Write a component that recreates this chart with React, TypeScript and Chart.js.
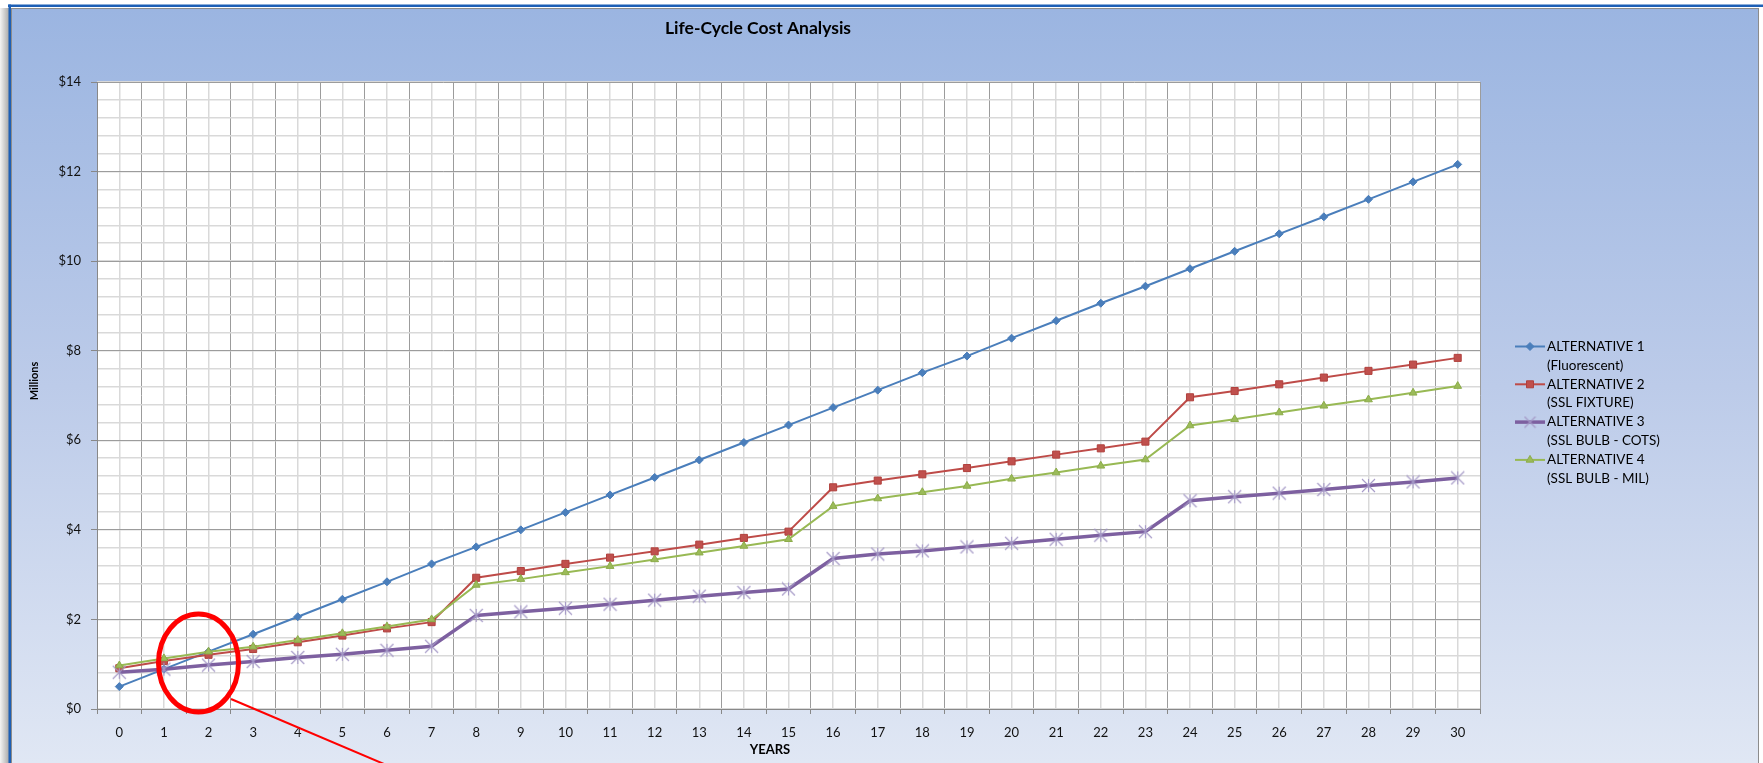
import React, { useEffect, useRef } from "react";
import { Chart, registerables } from "chart.js";
Chart.register(...registerables);

const years = ["0","1","2","3","4","5","6","7","8","9","10","11","12","13","14","15","16","17","18","19","20","21","22","23","24","25","26","27","28","29","30"];

const alt1 = [0.50, 0.89, 1.28, 1.67, 2.06, 2.45, 2.84, 3.24, 3.62, 4.00, 4.39, 4.78, 5.17, 5.56, 5.95, 6.34, 6.73, 7.12, 7.51, 7.88, 8.28, 8.67, 9.06, 9.44, 9.83, 10.22, 10.61, 10.99, 11.38, 11.77, 12.16];
const alt2 = [0.91, 1.07, 1.21, 1.34, 1.49, 1.64, 1.80, 1.94, 2.93, 3.08, 3.24, 3.38, 3.52, 3.67, 3.82, 3.96, 4.95, 5.10, 5.24, 5.38, 5.53, 5.68, 5.82, 5.97, 6.96, 7.10, 7.25, 7.40, 7.55, 7.69, 7.84];
const alt3 = [0.82, 0.89, 0.98, 1.06, 1.15, 1.22, 1.31, 1.40, 2.09, 2.17, 2.25, 2.34, 2.43, 2.52, 2.60, 2.68, 3.36, 3.46, 3.53, 3.62, 3.70, 3.79, 3.88, 3.96, 4.65, 4.74, 4.82, 4.90, 4.99, 5.07, 5.16];
const alt4 = [0.97, 1.13, 1.28, 1.39, 1.54, 1.69, 1.84, 2.00, 2.77, 2.90, 3.05, 3.19, 3.34, 3.49, 3.64, 3.79, 4.53, 4.70, 4.84, 4.98, 5.14, 5.28, 5.43, 5.57, 6.33, 6.47, 6.62, 6.77, 6.91, 7.06, 7.21];

const legendLine1 = ["ALTERNATIVE 1", "ALTERNATIVE 2", "ALTERNATIVE 3", "ALTERNATIVE 4"];
const legendLine2 = ["(Fluorescent)", "(SSL FIXTURE)", "(SSL BULB - COTS)", "(SSL BULB - MIL)"];

const chartTitle = "Life-Cycle Cost Analysis";
const xTitle = "YEARS";
const yTitle = "Millions";

const FONT = "Lato, 'Open Sans', sans-serif";

function makeStar(color: string, size: number, vertical: boolean) {
  const c = document.createElement("canvas");
  c.width = size;
  c.height = size;
  const g = c.getContext("2d")!;
  g.strokeStyle = color;
  g.lineWidth = 1.1;
  const m = size / 2;
  const r = size / 2 - 1;
  g.beginPath();
  g.moveTo(m - r, m - r);
  g.lineTo(m + r, m + r);
  g.moveTo(m + r, m - r);
  g.lineTo(m - r, m + r);
  if (vertical) {
    g.moveTo(m, m - r);
    g.lineTo(m, m + r);
  }
  g.stroke();
  return c;
}

function drawMarker(ctx: CanvasRenderingContext2D, style: any, x: number, y: number, fill: string, stroke: string) {
  ctx.fillStyle = fill;
  ctx.strokeStyle = stroke;
  ctx.lineWidth = 1;
  ctx.beginPath();
  if (style === "rectRot") {
    const r = 4;
    ctx.moveTo(x, y - r);
    ctx.lineTo(x + r, y);
    ctx.lineTo(x, y + r);
    ctx.lineTo(x - r, y);
    ctx.closePath();
  } else if (style === "rect") {
    ctx.rect(x - 3.5, y - 3.5, 7, 7);
  } else if (style === "triangle") {
    const r = 4.5;
    ctx.moveTo(x, y - r);
    ctx.lineTo(x + r * 0.866, y + r * 0.5);
    ctx.lineTo(x - r * 0.866, y + r * 0.5);
    ctx.closePath();
  }
  ctx.fill();
  ctx.stroke();
}

export default function App() {
  const ref = useRef<HTMLCanvasElement | null>(null);

  useEffect(() => {
    const canvas = ref.current!;
    const star = makeStar("#a498c6", 15, true);
    const legendStar = makeStar("#a498c6", 13, false);

    const framePlugin = {
      id: "frame",
      beforeDraw(chart: any) {
        const ctx = chart.ctx as CanvasRenderingContext2D;
        const W = chart.width, H = chart.height;
        ctx.save();
        ctx.fillStyle = "#ffffff";
        ctx.fillRect(0, 0, W, H);
        const sh = ctx.createLinearGradient(0, 0, 9, 0);
        sh.addColorStop(0, "#f4f4f4");
        sh.addColorStop(1, "#a9a9a9");
        ctx.fillStyle = sh;
        ctx.fillRect(0, 8, 9, H - 8);
        const g = ctx.createLinearGradient(0, 9, 0, H);
        g.addColorStop(0, "#9bb5e1");
        g.addColorStop(0.5, "#bccbe9");
        g.addColorStop(1, "#e0e7f4");
        ctx.fillStyle = g;
        ctx.fillRect(12, 9, 1746, H - 9);
        ctx.strokeStyle = "#8c8c8c";
        ctx.lineWidth = 1;
        ctx.strokeRect(11.5, 8.5, 1747, H);
        ctx.fillStyle = "#1d5fb5";
        ctx.fillRect(8, 4.5, W - 8, 2.5);
        ctx.fillRect(8.5, 4.5, 2.5, H);
        const ca = chart.chartArea;
        ctx.fillStyle = "#ffffff";
        ctx.fillRect(ca.left, ca.top, ca.right - ca.left, ca.bottom - ca.top);
        ctx.restore();
      },
      afterDraw(chart: any) {
        const ctx = chart.ctx as CanvasRenderingContext2D;
        ctx.save();
        ctx.fillStyle = "#000";
        ctx.textAlign = "center";
        ctx.textBaseline = "middle";
        ctx.font = `bold 17.5px ${FONT}`;
        ctx.fillText(chartTitle, 758, 28);
        ctx.font = `bold 13px ${FONT}`;
        ctx.fillText(xTitle, 770, 750);
        ctx.save();
        ctx.translate(34, 381);
        ctx.rotate(-Math.PI / 2);
        ctx.font = `bold 11px ${FONT}`;
        ctx.fillText(yTitle, 0, 0);
        ctx.restore();

        // legend
        const ds = chart.data.datasets;
        for (let i = 0; i < ds.length; i++) {
          const d = ds[i];
          const y0 = 346.5 + i * 37.8;
          ctx.strokeStyle = d.borderColor;
          ctx.lineWidth = d.borderWidth;
          ctx.beginPath();
          ctx.moveTo(1515, y0);
          ctx.lineTo(1545, y0);
          ctx.stroke();
          if (d.pointStyle instanceof HTMLCanvasElement) {
            ctx.drawImage(legendStar, 1530 - 6.5, y0 - 6.5);
          } else {
            drawMarker(ctx, d.pointStyle, 1530, y0, d.pointBackgroundColor, d.pointBorderColor);
          }
          ctx.fillStyle = "#000";
          ctx.textAlign = "left";
          ctx.textBaseline = "middle";
          ctx.font = `13.5px ${FONT}`;
          ctx.fillText(legendLine1[i], 1547, y0);
          ctx.fillText(legendLine2[i], 1547, y0 + 18.8);
        }

        // red annotation
        ctx.strokeStyle = "#ff0000";
        ctx.lineWidth = 5;
        ctx.beginPath();
        ctx.ellipse(198.5, 663, 40, 49, 0, 0, Math.PI * 2);
        ctx.stroke();
        ctx.lineWidth = 2;
        ctx.beginPath();
        ctx.moveTo(231, 699);
        ctx.lineTo(384, 764);
        ctx.stroke();
        ctx.restore();
      },
    };

    const darkGrid = "#9c9c9c";
    const lightGrid = "#d9d9d9";

    const chart = new Chart(canvas, {
      type: "line",
      data: {
        labels: years,
        datasets: [
          {
            label: legendLine1[0] + " " + legendLine2[0],
            data: alt1,
            borderColor: "#4a7ebb",
            backgroundColor: "#4a7ebb",
            pointBackgroundColor: "#4a7ebb",
            pointBorderColor: "#4a7ebb",
            borderWidth: 2,
            pointStyle: "rectRot",
            pointRadius: 4,
            pointBorderWidth: 1,
            order: 4,
          },
          {
            label: legendLine1[1] + " " + legendLine2[1],
            data: alt2,
            borderColor: "#be4b48",
            backgroundColor: "#be4b48",
            pointBackgroundColor: "#c0504d",
            pointBorderColor: "#b0403d",
            borderWidth: 2,
            pointStyle: "rect",
            pointRadius: 5,
            pointBorderWidth: 1,
            order: 3,
          },
          {
            label: legendLine1[2] + " " + legendLine2[2],
            data: alt3,
            borderColor: "#7d60a0",
            backgroundColor: "#7d60a0",
            pointBackgroundColor: "#7d60a0",
            pointBorderColor: "#7d60a0",
            borderWidth: 3.5,
            pointStyle: star as any,
            pointRadius: 7,
            order: 2,
          },
          {
            label: legendLine1[3] + " " + legendLine2[3],
            data: alt4,
            borderColor: "#98b954",
            backgroundColor: "#98b954",
            pointBackgroundColor: "#9bbb59",
            pointBorderColor: "#8cac4a",
            borderWidth: 2,
            pointStyle: "triangle",
            pointRadius: 4.5,
            pointBorderWidth: 1,
            order: 1,
          },
        ],
      },
      options: {
        responsive: false,
        maintainAspectRatio: false,
        animation: false,
        events: [],
        layout: { padding: { top: 82, right: 283, bottom: 0, left: 0 } },
        plugins: {
          legend: { display: false },
          title: { display: false },
          tooltip: { enabled: false },
        },
        elements: { line: { tension: 0 } },
        scales: {
          x2: {
            type: "category",
            position: "bottom",
            offset: true,
            z: -1,
            grid: { offset: false, color: lightGrid, lineWidth: 1.5, drawTicks: false },
            border: { display: false },
            ticks: { display: false },
            afterFit: (s: any) => { s.height = 0; },
          },
          x: {
            type: "category",
            position: "bottom",
            offset: true,
            grid: { offset: true, color: darkGrid, lineWidth: 1, drawTicks: true, tickLength: 5, tickColor: "#888" },
            border: { display: true, color: "#888", width: 1 },
            ticks: {
              color: "#111",
              font: { family: FONT, size: 13 },
              padding: 11,
              maxRotation: 0,
              autoSkip: false,
            },
            afterFit: (s: any) => { s.height = 54; },
          },
          y2: {
            type: "linear",
            position: "left",
            min: 0,
            max: 14,
            z: -1,
            grid: { color: lightGrid, lineWidth: 1.5, drawTicks: false },
            border: { display: false },
            ticks: { display: false, stepSize: 0.4 },
            afterFit: (s: any) => { s.width = 0; },
          },
          y: {
            type: "linear",
            position: "left",
            min: 0,
            max: 14,
            grid: { color: darkGrid, lineWidth: 1, drawTicks: true, tickLength: 6, tickColor: "#888" },
            border: { display: true, color: "#888", width: 1 },
            ticks: {
              stepSize: 2,
              color: "#111",
              font: { family: FONT, size: 13 },
              padding: 10,
              callback: (v: any) => "$" + v,
            },
            afterFit: (s: any) => { s.width = 97; },
          },
        },
      },
      plugins: [framePlugin],
    });

    return () => chart.destroy();
  }, []);

  return (
    <div style={{ position: "fixed", left: 0, top: 0, width: 1763, height: 763 }}>
      <canvas ref={ref} width={1763} height={763} style={{ width: 1763, height: 763, display: "block" }} />
    </div>
  );
}
